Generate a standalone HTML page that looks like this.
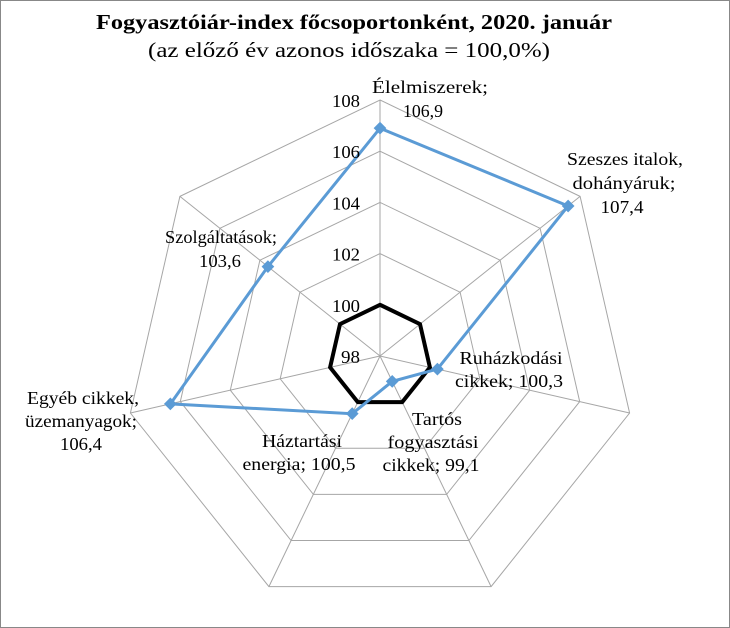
<!DOCTYPE html>
<html><head><meta charset="utf-8"><style>
html,body{margin:0;padding:0;background:#fff}
svg{display:block}
text{font-family:"Liberation Serif","Times New Roman",serif;fill:#000}
</style></head><body>
<svg id="s" width="730" height="628" viewBox="0 0 730 628" xmlns="http://www.w3.org/2000/svg" font-family="Liberation Serif, serif">
<rect x="0.5" y="0.5" width="729" height="627" fill="#fff" stroke="#888" stroke-width="1"/>
<text x="96" y="29" font-size="21" font-weight="bold" textLength="516" lengthAdjust="spacingAndGlyphs">Fogyasztóiár-index főcsoportonként, 2020. január</text>
<text x="148" y="57" font-size="21" textLength="402" lengthAdjust="spacingAndGlyphs">(az előző év azonos időszaka = 100,0%)</text>
<g id="grid"></g>
<g font-size="18" text-anchor="middle">
<text x="430" y="93" textLength="116" lengthAdjust="spacingAndGlyphs">Élelmiszerek;</text>
<text x="423" y="117" textLength="40" lengthAdjust="spacingAndGlyphs">106,9</text>
<text x="625" y="165" textLength="116" lengthAdjust="spacingAndGlyphs">Szeszes italok,</text>
<text x="624" y="189" textLength="103" lengthAdjust="spacingAndGlyphs">dohányáruk;</text>
<text x="622" y="213" textLength="43" lengthAdjust="spacingAndGlyphs">107,4</text>
<text x="511" y="364" textLength="103" lengthAdjust="spacingAndGlyphs">Ruházkodási</text>
<text x="509" y="387" textLength="108" lengthAdjust="spacingAndGlyphs">cikkek;  100,3</text>
<text x="437" y="425" textLength="50" lengthAdjust="spacingAndGlyphs">Tartós</text>
<text x="433" y="448" textLength="91" lengthAdjust="spacingAndGlyphs">fogyasztási</text>
<text x="431" y="471" textLength="97" lengthAdjust="spacingAndGlyphs">cikkek; 99,1</text>
<text x="302" y="447" textLength="80" lengthAdjust="spacingAndGlyphs">Háztartási</text>
<text x="299" y="470" textLength="113" lengthAdjust="spacingAndGlyphs">energia;  100,5</text>
<text x="83" y="404" textLength="112" lengthAdjust="spacingAndGlyphs">Egyéb cikkek,</text>
<text x="81" y="427" textLength="112" lengthAdjust="spacingAndGlyphs">üzemanyagok;</text>
<text x="81" y="450" textLength="42" lengthAdjust="spacingAndGlyphs">106,4</text>
<text x="221" y="243" textLength="112" lengthAdjust="spacingAndGlyphs">Szolgáltatások;</text>
<text x="220" y="267" textLength="42" lengthAdjust="spacingAndGlyphs">103,6</text>
</g>
<g id="ticks" font-size="18"></g>
</svg>
<script>
var cx=380,cy=356,k=25.6;
function pt(i,v){var a=i*2*Math.PI/7,r=(v-98)*k;return [cx+r*Math.sin(a),cy-r*Math.cos(a)];}
function poly(vals){return vals.map(function(v,i){return pt(i,v).map(function(n){return n.toFixed(1)}).join(',')}).join(' ');}
var g=document.getElementById('grid'),h='';
for(var v=100;v<=108;v+=2){h+='<polygon points="'+poly([v,v,v,v,v,v,v])+'" fill="none" stroke="#a6a6a6" stroke-width="1"/>';}
for(var i=0;i<7;i++){var p=pt(i,108);h+='<line x1="'+cx+'" y1="'+cy+'" x2="'+p[0].toFixed(1)+'" y2="'+p[1].toFixed(1)+'" stroke="#a6a6a6" stroke-width="1"/>';}
h+='<polygon points="'+poly([100,100,100,100,100,100,100])+'" fill="none" stroke="#000" stroke-width="4"/>';
var d=[106.9,107.4,100.3,99.1,100.5,106.4,103.6];
h+='<polygon points="'+poly(d)+'" fill="none" stroke="#5b9bd5" stroke-width="3"/>';
d.forEach(function(v,i){var p=pt(i,v);h+='<rect x="'+(p[0]-4.5)+'" y="'+(p[1]-4.5)+'" width="9" height="9" fill="#5b9bd5" transform="rotate(45 '+p[0]+' '+p[1]+')"/>';});
g.innerHTML=h;
var t='';for(var v=98;v<=108;v+=2){var w=v<100?19:28;t+='<text x="'+(360-w)+'" y="'+(cy-(v-98)*k+7)+'" textLength="'+w+'" lengthAdjust="spacingAndGlyphs" font-family="Liberation Serif, serif">'+v+'</text>';}
document.getElementById('ticks').innerHTML=t;
</script>
</body></html>
